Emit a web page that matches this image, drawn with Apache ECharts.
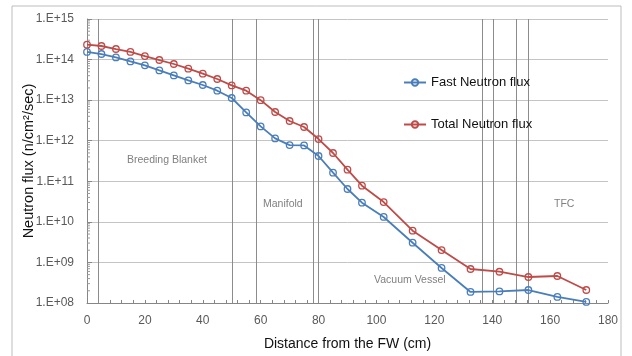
<!DOCTYPE html>
<html>
<head>
<meta charset="utf-8">
<script src="https://cdn.jsdelivr.net/npm/echarts@6/dist/echarts.min.js"></script>
<style>
  html, body { margin: 0; padding: 0; background: #fff; }
  #chart { width: 632px; height: 356px; }
</style>
</head>
<body>
<div id="chart"></div>
<script>
// distance from the first wall (cm)
const distance = [0, 5, 10, 15, 20, 25, 30, 35, 40, 45, 50, 55, 60, 65, 70, 75, 80, 85, 90, 95,
  102.5, 112.5, 122.5, 132.5, 142.5, 152.5, 162.5, 172.5];

// flux values (n/cm2/sec)
const fastFlux = [1.54e14, 1.37e14, 1.13e14, 9.0e13, 7.2e13, 5.4e13, 4.07e13, 3.07e13, 2.36e13, 1.71e13,
  1.13e13, 4.99e12, 2.25e12, 1.14e12, 7.8e11, 7.66e11, 4.2e11, 1.63e11, 6.46e10, 2.97e10,
  1.32e10, 3.06e9, 7.3e8, 1.87e8, 1.93e8, 2.09e8, 1.41e8, 1.06e8];
const totalFlux = [2.33e14, 2.16e14, 1.82e14, 1.54e14, 1.22e14, 9.75e13, 7.78e13, 5.96e13, 4.49e13, 3.32e13,
  2.31e13, 1.71e13, 1.0e13, 5.1e12, 3.06e12, 2.18e12, 1.1e12, 4.98e11, 1.93e11, 7.78e10,
  3.08e10, 6.05e9, 2.02e9, 6.88e8, 5.9e8, 4.37e8, 4.63e8, 2.09e8];

// component boundaries (vertical lines)
const boundaries = [4, 50.3, 58.4, 78.3, 80, 136.4, 140.5, 148.4, 152.3];

// y axis decades and minor tick steps
const decades = [8, 9, 10, 11, 12, 13, 14];
const minorSteps = [2, 3, 4, 5, 6, 7, 8, 9];

const minorTickValues = [];
decades.forEach((d) => minorSteps.forEach((k) => minorTickValues.push([0, k * Math.pow(10, d)])));

const FONT = 'Liberation Sans, Arial, sans-serif';
const BLUE = '#4a7ebb';
const RED = '#be4b48';

const chart = echarts.init(document.getElementById('chart'));

const makeLine = (name, values, color) => ({
  name: name,
  type: 'line',
  data: distance.map((x, i) => [x, values[i]]),
  symbol: 'circle',
  symbolSize: 6.5,
  lineStyle: { color: color, width: 1.8 },
  itemStyle: { color: 'rgba(255,255,255,0)', borderColor: color, borderWidth: 1.3 },
  z: 3,
});

const option = {
  animation: false,
  textStyle: { fontFamily: FONT },
  grid: { left: 87, right: 24, top: 19, bottom: 53 },
  legend: {
    orient: 'vertical',
    left: 398,
    top: 71,
    itemGap: 29,
    itemWidth: 22,
    itemHeight: 8,
    textStyle: { fontSize: 13, color: '#111', fontFamily: FONT },
    data: ['Fast Neutron flux', 'Total Neutron flux'],
  },
  xAxis: {
    type: 'value',
    min: 0,
    max: 180,
    interval: 20,
    name: 'Distance from the FW (cm)',
    nameLocation: 'middle',
    nameGap: 34,
    nameTextStyle: { fontSize: 14, color: '#111', fontFamily: FONT },
    axisLine: { lineStyle: { color: '#868686' } },
    axisTick: { show: true, inside: true, length: 3, lineStyle: { color: '#868686' } },
    minorTick: { show: true, splitNumber: 5, length: 3, lineStyle: { color: '#868686' } },
    axisLabel: { fontSize: 12, color: '#595959', margin: 12 },
    splitLine: { show: false },
  },
  yAxis: {
    type: 'log',
    logBase: 10,
    min: 1e8,
    max: 1e15,
    name: 'Neutron flux (n/cm\u00b2/sec)',
    nameLocation: 'middle',
    nameGap: 51,
    nameMoveOverlap: false,
    nameRotate: 90,
    nameTextStyle: { fontSize: 14.5, color: '#111', fontFamily: FONT },
    axisLine: { show: true, lineStyle: { color: '#868686' } },
    axisTick: { show: true, inside: true, length: 5, lineStyle: { color: '#868686' } },
    axisLabel: {
      fontSize: 12,
      color: '#595959',
      margin: 13,
      formatter: (v) => '1.E+' + String(Math.round(Math.log10(v))).padStart(2, '0'),
    },
    splitLine: { show: true, lineStyle: { color: '#c4c4c4', width: 1 } },
  },
  graphic: [
    {
      type: 'rect',
      shape: { x: 12, y: 6, width: 609, height: 360 },
      style: { fill: 'none', stroke: '#bdbdbd', lineWidth: 1 },
      silent: true,
    },
    { type: 'text', left: 127, top: 155, style: { text: 'Breeding Blanket', fontSize: 10.5, fill: '#7f7f7f', fontFamily: FONT } },
    { type: 'text', left: 263, top: 199, style: { text: 'Manifold', fontSize: 10.5, fill: '#7f7f7f', fontFamily: FONT } },
    { type: 'text', left: 374, top: 275, style: { text: 'Vacuum Vessel', fontSize: 10.5, fill: '#7f7f7f', fontFamily: FONT } },
    { type: 'text', left: 554, top: 199, style: { text: 'TFC', fontSize: 10.5, fill: '#7f7f7f', fontFamily: FONT } },
  ],
  series: [
    Object.assign(makeLine('Fast Neutron flux', fastFlux, BLUE), {
      markLine: {
        silent: true,
        symbol: 'none',
        label: { show: false },
        lineStyle: { color: '#8c8c8c', type: 'solid', width: 1 },
        data: boundaries.map((b) => ({ xAxis: b })),
        z: 1,
      },
    }),
    makeLine('Total Neutron flux', totalFlux, RED),
    {
      // log minor ticks on the y axis
      type: 'custom',
      silent: true,
      data: minorTickValues,
      renderItem: (params, api) => {
        const p = api.coord([0, api.value(1)]);
        return {
          type: 'line',
          shape: { x1: p[0], y1: p[1], x2: p[0] + 3, y2: p[1] },
          style: { stroke: '#9a9a9a', lineWidth: 1 },
        };
      },
      z: 2,
    },
  ],
};

chart.setOption(option);
</script>
</body>
</html>
